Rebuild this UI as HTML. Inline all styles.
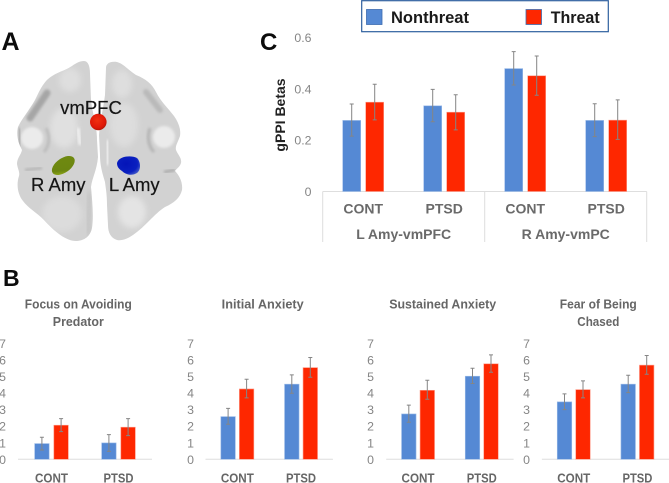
<!DOCTYPE html>
<html>
<head>
<meta charset="utf-8">
<title>gPPI figure</title>
<style>
html,body{margin:0;padding:0;background:#fff;width:669px;height:483px;overflow:hidden}
svg{display:block;font-family:"Liberation Sans",sans-serif;filter:blur(.3px)}
</style>
</head>
<body>
<svg id="fig" xmlns="http://www.w3.org/2000/svg" width="669" height="483" viewBox="0 0 669 483">
<defs>
<filter id="b1" x="-50%" y="-50%" width="200%" height="200%"><feGaussianBlur stdDeviation="1.2"/></filter>
<filter id="b3" x="-60%" y="-60%" width="220%" height="220%"><feGaussianBlur stdDeviation="3"/></filter>
<radialGradient id="redG" cx="45%" cy="40%" r="65%"><stop offset="0" stop-color="#f03010"/><stop offset="0.7" stop-color="#e01808"/><stop offset="1" stop-color="#a81808"/></radialGradient>
<linearGradient id="oliveG" x1="1" y1="0" x2="0" y2="1"><stop offset="0" stop-color="#6f8a10"/><stop offset="0.7" stop-color="#6c8610"/><stop offset="1" stop-color="#a8c020"/></linearGradient>
<radialGradient id="blueG" cx="40%" cy="40%" r="70%"><stop offset="0" stop-color="#0414b8"/><stop offset="0.7" stop-color="#0a20c0"/><stop offset="1" stop-color="#4a60c8"/></radialGradient>
<clipPath id="lh"><path d="M84,61 C88,61 90,66 90,74 L91,100 C92,112 97,125 97,140 L98,157 C97,170 92,178 91,187 C92,200 94,215 92,228 C90,238 82,241 76,241 C66,241 55,232 44,220 C36,212 28,208 23,201 C18,195 16,185 19,176 C20,172 18,170 17,164 C17,158 21,155 22,150 C18,142 16,135 18,127 C21,120 28,112 35,100 C39,92 41,87 46,81 C55,72 63,72 72,66 C76,63 80,61 84,61 Z"/></clipPath>
<clipPath id="rh"><path d="M106,68 C106,63 111,61 117,62 C124,64 128,70 136,75 C146,79 152,84 156,92 C161,102 168,108 174,116 C179,123 181,130 180,136 C178,142 175,146 176,150 C178,155 182,158 181,163 C180,167 176,169 175,171 C179,175 183,182 182,190 C180,198 174,203 165,207 C154,214 146,226 133,235 C127,239 122,241 117,240 C111,238 108,233 108,225 L107,205 C107,195 106,190 105,182 C102,172 100,165 100,155 L99,135 C100,122 103,110 105,95 Z"/></clipPath>
</defs>

<g id="panel-a">
<g>
<path fill="#d2d2d2" d="M84,61 C88,61 90,66 90,74 L91,100 C92,112 97,125 97,140 L98,157 C97,170 92,178 91,187 C92,200 94,215 92,228 C90,238 82,241 76,241 C66,241 55,232 44,220 C36,212 28,208 23,201 C18,195 16,185 19,176 C20,172 18,170 17,164 C17,158 21,155 22,150 C18,142 16,135 18,127 C21,120 28,112 35,100 C39,92 41,87 46,81 C55,72 63,72 72,66 C76,63 80,61 84,61 Z"/>
<g clip-path="url(#lh)">
<ellipse cx="64" cy="128" rx="14" ry="20" fill="#e0e0e0" filter="url(#b3)"/>
<ellipse cx="32" cy="138" rx="11" ry="11" fill="#ebebeb" filter="url(#b1)"/>
<ellipse cx="70" cy="80" rx="11" ry="12" fill="#dedede" filter="url(#b3)"/>
<path d="M30,118 L47,93" stroke="#a6a6a6" stroke-width="7" stroke-linecap="round" filter="url(#b1)"/>
<path d="M19,128 L20,148" stroke="#b0b0b0" stroke-width="4" filter="url(#b1)"/>
<path d="M46,128 C50,136 50,145 44,152" stroke="#bcbcbc" stroke-width="3" fill="none" filter="url(#b1)"/>
<path d="M78,128 L80,145" stroke="#f2f2f2" stroke-width="3" filter="url(#b1)"/>
<ellipse cx="62" cy="214" rx="20" ry="18" fill="#dcdcdc" filter="url(#b3)"/>
<path d="M90,192 L88,235" stroke="#c2c2c2" stroke-width="5" filter="url(#b3)"/>
<path d="M25,170 L42,168" stroke="#b4b4b4" stroke-width="2.5" filter="url(#b1)"/>
</g>
</g>
<g>
<path fill="#d2d2d2" d="M106,68 C106,63 111,61 117,62 C124,64 128,70 136,75 C146,79 152,84 156,92 C161,102 168,108 174,116 C179,123 181,130 180,136 C178,142 175,146 176,150 C178,155 182,158 181,163 C180,167 176,169 175,171 C179,175 183,182 182,190 C180,198 174,203 165,207 C154,214 146,226 133,235 C127,239 122,241 117,240 C111,238 108,233 108,225 L107,205 C107,195 106,190 105,182 C102,172 100,165 100,155 L99,135 C100,122 103,110 105,95 Z"/>
<g clip-path="url(#rh)">
<ellipse cx="124" cy="125" rx="14" ry="22" fill="#dddddd" filter="url(#b3)"/>
<ellipse cx="164" cy="137" rx="11" ry="11" fill="#ebebeb" filter="url(#b1)" transform="rotate(-30 164 137)"/>
<ellipse cx="122" cy="84" rx="10" ry="14" fill="#dedede" filter="url(#b3)"/>
<path d="M146,92 L160,110" stroke="#bababa" stroke-width="6" stroke-linecap="round" filter="url(#b1)"/>
<path d="M150,128 C147,136 148,146 154,152" stroke="#b4b4b4" stroke-width="3" fill="none" filter="url(#b1)"/>
<ellipse cx="132" cy="212" rx="14" ry="16" fill="#e4e4e4" filter="url(#b3)"/>
<path d="M107,140 L108,165" stroke="#ececec" stroke-width="4" filter="url(#b1)"/>
<path d="M164,172 L175,170" stroke="#a8a8a8" stroke-width="2.5" filter="url(#b1)"/>
</g>
</g>
<ellipse cx="98.3" cy="122" rx="8.3" ry="8.2" fill="url(#redG)"/>
<ellipse cx="63.3" cy="165.5" rx="13" ry="7.2" fill="url(#oliveG)" transform="rotate(-35 63.3 165.5)"/>
<path d="M117,163 C119,156 131,155 137,158 C141,162 141,170 137,173 C132,176 126,175 122,171 C119,169 117,167 117,163Z" fill="url(#blueG)"/>
<g fill="#151515" font-size="18.5" stroke="#151515" stroke-width="0.2">
<text x="91" y="114" text-anchor="middle">vmPFC</text>
<text x="58.3" y="191" text-anchor="middle">R Amy</text>
<text x="134.3" y="191" text-anchor="middle">L Amy</text>
</g>
</g>

<g font-weight="bold" fill="#0c0c0c">
<text x="1.5" y="50" font-size="25">A</text>
<text x="3" y="286" font-size="23">B</text>
<text x="260" y="50" font-size="24">C</text>
</g>

<g>
<rect x="361.7" y="0.7" width="246.6" height="31" fill="#fff" stroke="#2d5f9e" stroke-width="1.2"/>
<rect x="366.5" y="9.5" width="15.5" height="15" fill="#5589d4" stroke="#3c6cb0" stroke-width="0.8"/>
<text x="391" y="23" font-size="16.5" font-weight="bold" fill="#1a1a1a" textLength="78" lengthAdjust="spacingAndGlyphs">Nonthreat</text>
<rect x="526" y="9.5" width="15.5" height="15" fill="#fe2700" stroke="#3c6cb0" stroke-width="0.8"/>
<text x="550.7" y="23" font-size="16.5" font-weight="bold" fill="#1a1a1a" textLength="49" lengthAdjust="spacingAndGlyphs">Threat</text>
</g>

<g id="chart-c"></g>
<g id="chart-b"></g>
</svg>

<script>
// Panel C data
const cTicks = [0, 0.2, 0.4, 0.6];
const cTickLabels = ["0", "0.2", "0.4", "0.6"];
const cCategories = ["CONT", "PTSD", "CONT", "PTSD"];
const cGroups = ["L Amy-vmPFC", "R Amy-vmPC"];
const cNonthreat = [0.277, 0.334, 0.479, 0.277];
const cNonthreatHigh = [0.341, 0.398, 0.545, 0.342];
const cNonthreatLow = [0.216, 0.272, 0.415, 0.214];
const cThreat = [0.348, 0.309, 0.451, 0.278];
const cThreatHigh = [0.418, 0.377, 0.528, 0.357];
const cThreatLow = [0.279, 0.240, 0.375, 0.203];

// Panel B data
const bTicks = [0, 1, 2, 3, 4, 5, 6, 7];
const bCategories = ["CONT", "PTSD"];
const focusNonthreat = [0.95, 0.99];
const focusNonthreatHigh = [1.33, 1.49];
const focusNonthreatLow = [0.56, 0.48];
const focusThreat = [2.06, 1.94];
const focusThreatHigh = [2.46, 2.46];
const focusThreatLow = [1.67, 1.43];
const initialNonthreat = [2.58, 4.54];
const initialNonthreatHigh = [3.08, 5.10];
const initialNonthreatLow = [2.12, 3.99];
const initialThreat = [4.25, 5.54];
const initialThreatHigh = [4.84, 6.15];
const initialThreatLow = [3.71, 4.96];
const sustainedNonthreat = [2.74, 5.02];
const sustainedNonthreatHigh = [3.27, 5.50];
const sustainedNonthreatLow = [2.24, 4.58];
const sustainedThreat = [4.17, 5.77];
const sustainedThreatHigh = [4.78, 6.31];
const sustainedThreatLow = [3.63, 5.26];
const fearNonthreat = [3.47, 4.54];
const fearNonthreatHigh = [3.95, 5.08];
const fearNonthreatLow = [3.00, 4.03];
const fearThreat = [4.21, 5.69];
const fearThreatHigh = [4.74, 6.27];
const fearThreatLow = [3.71, 5.14];

const NS = "http://www.w3.org/2000/svg";
const BLUE = "#5589d4";
const RED = "#fe2700";

function mk(parent, tag, attrs, txt) {
  const el = document.createElementNS(NS, tag);
  for (const k in attrs) el.setAttribute(k, attrs[k]);
  if (txt !== undefined) el.textContent = txt;
  parent.appendChild(el);
  return el;
}

function drawBar(parent, x, w, yFn, val, hi, lo, fill, edge, seriesName) {
  const bar = mk(parent, "rect", {x: x, y: yFn(val), width: w, height: yFn(0) - yFn(val), fill: fill, stroke: edge, "stroke-width": 0.6});
  
  
  const cx = x + w / 2;
  const err = mk(parent, "path", {
    d: "M" + cx + " " + yFn(hi) + "V" + yFn(lo) + "M" + (cx - 2) + " " + yFn(hi) + "H" + (cx + 2) + "M" + (cx - 2) + " " + yFn(lo) + "H" + (cx + 2),
    stroke: "#858585", "stroke-width": 1, fill: "none"
  });
  
  
}

// Panel C
(function () {
  const g = document.getElementById("chart-c");
  const y0 = 191.5, unit = 256.6;
  const yC = v => y0 - v * unit;
  const left = 322.7, band = 81;
  const xC = i => left + band * (i + 0.5);
  const barW = 18, gap = 5;

  cTicks.forEach(function (t, i) {
    const lab = mk(g, "text", {x: 311.5, y: yC(t) + 4.5, "text-anchor": "end", "font-size": 12.3, fill: "#858585"}, cTickLabels[i]);
    
    
  });
  const yt = mk(g, "text", {x: 0, y: 0, transform: "translate(285,115) rotate(-90)", "text-anchor": "middle", "font-size": 14, "font-weight": "bold", fill: "#222"}, "gPPI Betas");
  
  

  const ax = mk(g, "path", {d: "M" + left + " " + y0 + "H" + (left + band * 4) + "M" + left + " " + y0 + "V242M" + (left + band * 2) + " " + y0 + "V242M" + (left + band * 4) + " " + y0 + "V242", stroke: "#dedede", "stroke-width": 1, fill: "none"});
  
  

  cCategories.forEach(function (c, i) {
    const cx = xC(i);
    drawBar(g, cx - gap / 2 - barW, barW, yC, cNonthreat[i], cNonthreatHigh[i], cNonthreatLow[i], BLUE, "#9dbce8", "nonthreat");
    drawBar(g, cx + gap / 2, barW, yC, cThreat[i], cThreatHigh[i], cThreatLow[i], RED, "#ff9a88", "threat");
    const lab = mk(g, "text", {x: cx, y: 213.5, "text-anchor": "middle", "font-size": 14, "font-weight": "bold", fill: "#6a6a6a"}, c);
    
    
  });
  cGroups.forEach(function (c, i) {
    const lab = mk(g, "text", {x: left + band * (2 * i + 1), y: 239, "text-anchor": "middle", "font-size": 14, "font-weight": "bold", fill: "#6a6a6a"}, c);
    
    
  });
})();

// Panel B
function drawRating(cfg) {
  const root = document.getElementById("chart-b");
  const g = mk(root, "g", {});
  
  
  const y0 = 459.3, unit = 16.55;
  const yB = v => y0 - v * unit;
  const xB = i => cfg.left + cfg.band * (i + 0.5);
  const barW = 14.5, gap = cfg.gap;

  cfg.title.forEach(function (line, i) {
    const t = mk(g, "text", {x: cfg.titleX, y: 308.7 + i * 17.2, "text-anchor": "middle", "font-size": 12.6, "font-weight": "bold", fill: "#666", textLength: cfg.titleW[i], lengthAdjust: "spacingAndGlyphs"}, line);
    
    
  });
  bTicks.forEach(function (t) {
    const lab = mk(g, "text", {x: cfg.tickX, y: yB(t) + 4.5, "text-anchor": "end", "font-size": 12.3, fill: "#858585"}, String(t));
    
    
  });
  const ax = mk(g, "line", {x1: cfg.left, x2: cfg.left + cfg.band * 2, y1: y0, y2: y0, stroke: "#dedede", "stroke-width": 1});
  
  
  bCategories.forEach(function (c, i) {
    const cx = xB(i);
    drawBar(g, cx - gap / 2 - barW, barW, yB, cfg.n[i], cfg.nh[i], cfg.nl[i], BLUE, "#9dbce8", "nonthreat");
    drawBar(g, cx + gap / 2, barW, yB, cfg.t[i], cfg.th[i], cfg.tl[i], RED, "#ff9a88", "threat");
    const lab = mk(g, "text", {x: cx, y: 482.5, "text-anchor": "middle", "font-size": 12.6, "font-weight": "bold", fill: "#666", textLength: i === 0 ? 33 : 30, lengthAdjust: "spacingAndGlyphs"}, c);
    
    
  });
}

drawRating({name: "focus-on-avoiding-predator-chart", title: ["Focus on Avoiding", "Predator"], titleW: [107, 51], titleX: 78.3, tickX: 6, left: 18, band: 67, gap: 4.7,
  n: focusNonthreat, nh: focusNonthreatHigh, nl: focusNonthreatLow, t: focusThreat, th: focusThreatHigh, tl: focusThreatLow});
drawRating({name: "initial-anxiety-chart", title: ["Initial Anxiety"], titleW: [82], titleX: 262.7, tickX: 194, left: 205.5, band: 63.7, gap: 4,
  n: initialNonthreat, nh: initialNonthreatHigh, nl: initialNonthreatLow, t: initialThreat, th: initialThreatHigh, tl: initialThreatLow});
drawRating({name: "sustained-anxiety-chart", title: ["Sustained Anxiety"], titleW: [107], titleX: 442.7, tickX: 374, left: 386.2, band: 63.7, gap: 4,
  n: sustainedNonthreat, nh: sustainedNonthreatHigh, nl: sustainedNonthreatLow, t: sustainedThreat, th: sustainedThreatHigh, tl: sustainedThreatLow});
drawRating({name: "fear-of-being-chased-chart", title: ["Fear of Being", "Chased"], titleW: [77, 42], titleX: 598.3, tickX: 530, left: 541.9, band: 63.7, gap: 4,
  n: fearNonthreat, nh: fearNonthreatHigh, nl: fearNonthreatLow, t: fearThreat, th: fearThreatHigh, tl: fearThreatLow});
</script>
</body>
</html>
